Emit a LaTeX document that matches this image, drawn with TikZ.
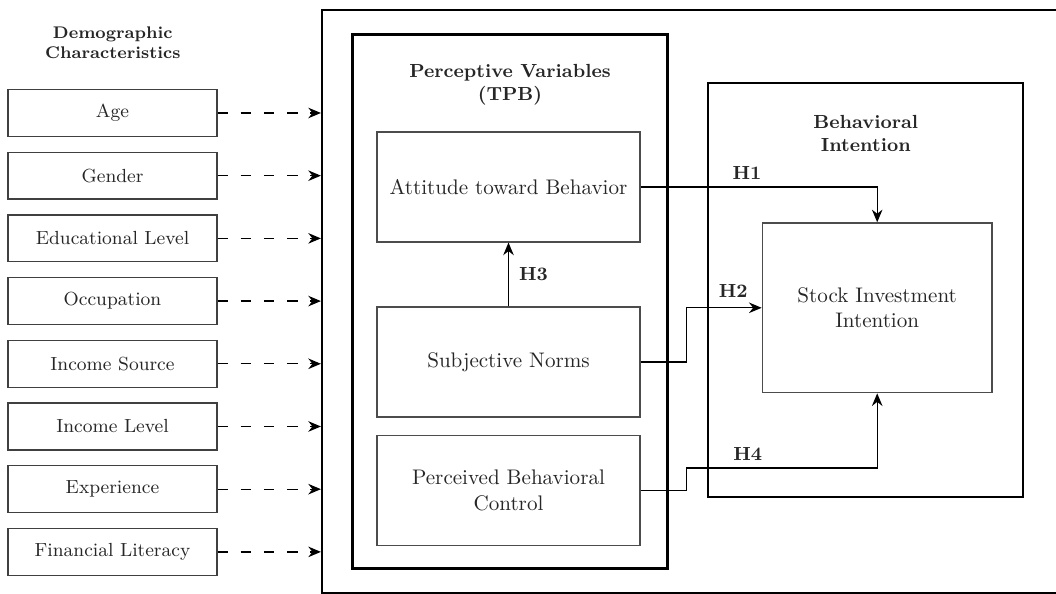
\documentclass[tikz,border=0pt]{standalone}
\usepackage{amsmath}
\usepackage{tikz}
\usetikzlibrary{arrows.meta}

\tikzset{
  demo/.style={draw=black!75, line width=0.6pt, minimum width=3.48cm, minimum height=0.78cm, font=\small, text=black!85},
  var/.style={draw=black!70, line width=0.6pt, minimum width=4.38cm, minimum height=1.83cm, align=center, text=black!85},
  frame/.style={draw, line width=1.2pt},
  title/.style={font=\small\bfseries, align=center, text=black!85},
  hyp/.style={font=\small\bfseries, text=black!85},
  link/.style={-{Stealth[length=6pt, width=5pt]}, line width=0.6pt},
  dlink/.style={-{Stealth[length=6pt, width=5pt]}, line width=0.6pt, dash pattern=on 5pt off 6pt},
}

\begin{document}
\begin{tikzpicture}
\useasboundingbox (0, 0) rectangle (17.6, -9.9);

% frames
\node[frame, minimum width=12.4cm, minimum height=9.71cm] (outer) at (11.57, -5.025) {};
\node[frame, line width=1.4pt, minimum width=5.25cm, minimum height=8.9cm] (tpb) at (8.505, -5.03) {};
\node[frame, minimum width=5.25cm, minimum height=6.9cm] (bi) at (14.425, -4.83) {};

\node[title, font=\footnotesize\bfseries] (demotitle) at (1.88, -0.71) {Demographic\\Characteristics};
\node[title] (tpbtitle) at (8.5, -1.41) {Perceptive Variables\\(TPB)};
\node[title] (bititle) at (14.43, -2.22) {Behavioral\\Intention};

% demographic characteristics
\node[demo] (age) at (1.875, -1.883) {Age};
\node[demo] (gender) at (1.875, -2.928) {Gender};
\node[demo] (edu) at (1.875, -3.973) {Educational Level};
\node[demo] (occ) at (1.875, -5.018) {Occupation};
\node[demo] (incsrc) at (1.875, -6.063) {Income Source};
\node[demo] (inclvl) at (1.875, -7.108) {Income Level};
\node[demo] (exp) at (1.875, -8.153) {Experience};
\node[demo] (finlit) at (1.875, -9.198) {Financial Literacy};

\foreach \d in {age, gender, edu, occ, incsrc, inclvl, exp, finlit}
  \draw[dlink] (\d.east) -- (\d.east -| outer.west);

% perceptive variables
\node[var] (att) at (8.475, -3.117) {Attitude toward Behavior};
\node[var] (sn) at (8.475, -6.033) {Subjective Norms};
\node[var] (pbc) at (8.475, -8.175) {Perceived Behavioral\\Control};

\node[var, minimum width=3.83cm, minimum height=2.83cm] (stock) at (14.62, -5.13) {Stock Investment\\Intention};

% hypotheses
\coordinate (h4turn) at (14.62, -7.8);

\draw[link] (att.east) -| node[hyp, pos=0.225, above] {H1} (stock.north);
\draw[link] (sn.north) -- (att.south) node[hyp, right, midway, xshift=0.05cm] {H3};
\draw[link] (sn.east) -- ++(0.77, 0) |- node[hyp, pos=0.81, above, yshift=0.05cm] {H2} (stock.west);
\draw[link] (pbc.east) -- ++(0.77, 0) |- node[hyp, pos=0.66, above] {H4} (h4turn) -- (stock.south);
\end{tikzpicture}
\end{document}
